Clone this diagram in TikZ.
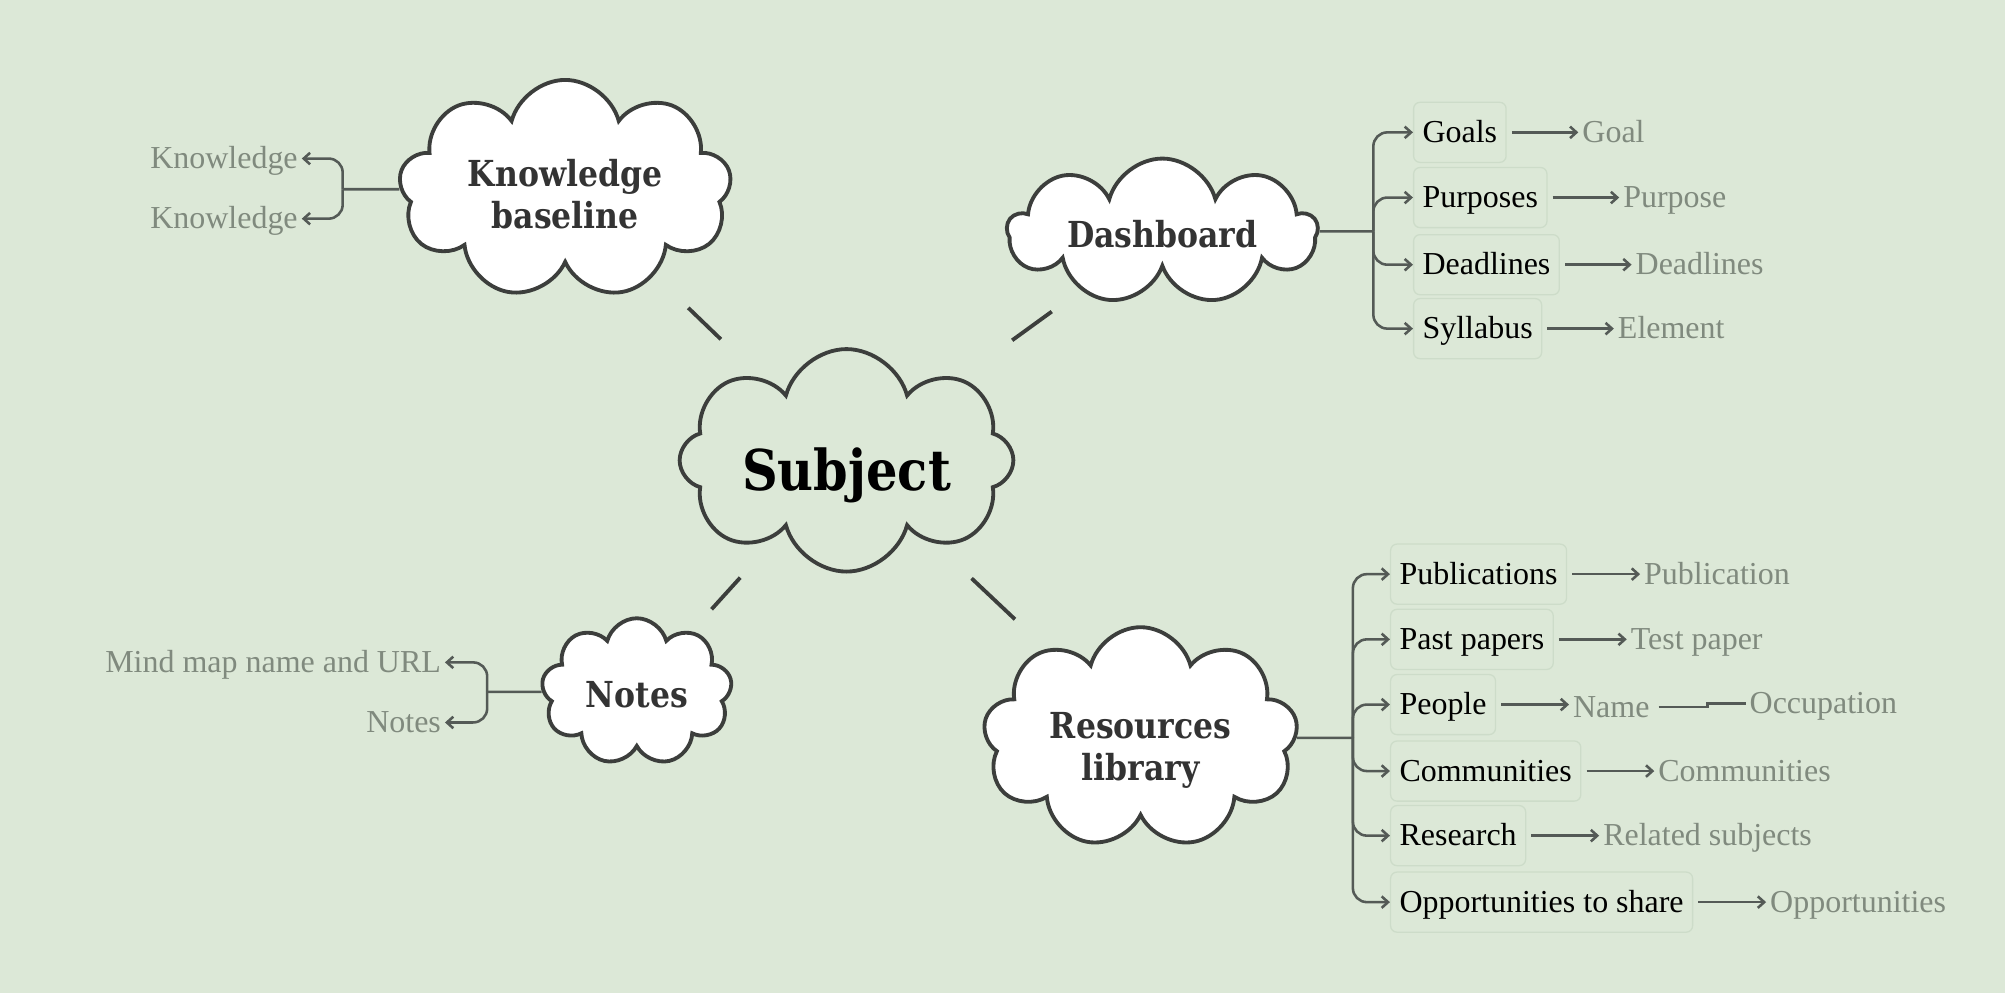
\documentclass[tikz,border=0pt]{standalone}
\usepackage{fontspec}
\setmainfont{Liberation Serif}
\newfontfamily\cloudfont{DejaVu Serif}[FakeStretch=0.88]
\usetikzlibrary{shapes.symbols,arrows.meta,positioning}
\definecolor{sage}{RGB}{220,232,215}
\definecolor{inkline}{RGB}{60,62,60}
\definecolor{branchline}{RGB}{84,90,86}
\definecolor{leafgray}{RGB}{128,138,126}
\definecolor{boxedge}{RGB}{205,220,201}
\begin{document}
\begin{tikzpicture}[x=1pt, y=-1pt,
	bubble/.style={cloud, cloud puffs=9, cloud ignores aspect, draw=inkline, line width=3pt, fill=white, align=center, text=black!80, font=\cloudfont\bfseries\fontsize{28}{33}\selectfont},
	topic/.style={draw=boxedge, line width=1pt, rounded corners=5pt, anchor=west, inner xsep=7pt, minimum height=47pt, text height=20pt, text depth=4pt, font=\fontsize{25}{29}\selectfont},
	leaf/.style={inner xsep=3pt, text=leafgray, text height=20pt, text depth=4pt, font=\fontsize{25}{29}\selectfont},
	branch/.style={draw=branchline, line width=2pt, rounded corners=11pt},
	pointer/.style={-{Straight Barb[length=5pt,width=9pt]}},
	spoke/.style={draw=inkline, line width=3pt}]
			\fill[sage] (0,0) rectangle (1568,776.6);
			\node[bubble, fill=none, cloud puffs=8, minimum width=261pt, minimum height=174pt, text=black, text height=57pt, text depth=10pt, font=\cloudfont\bfseries\fontsize{44}{50}\selectfont] (subject) at (662,360) {Subject};
			\node[bubble, minimum width=260pt, minimum height=171pt, text height=62pt, text depth=0pt] (baseline) at (442,148) {Knowledge\\baseline};
			\node[bubble, minimum width=242pt, minimum height=114pt, text height=25pt, text depth=0pt] (dashboard) at (909,181) {Dashboard};
			\node[bubble, minimum width=149pt, minimum height=115pt, text height=24pt, text depth=0pt] (notes) at (498,541) {Notes};
			\node[bubble, minimum width=246pt, minimum height=173pt, text height=73pt, text depth=6pt] (library) at (892,577) {Resources\\library};
			\draw[spoke, shorten <=136.5pt, shorten >=133.7pt] (subject.center) -- (baseline.center);
			\draw[spoke, shorten <=160pt, shorten >=106.8pt] (subject.center) -- (dashboard.center);
			\draw[spoke, shorten <=123.8pt, shorten >=87.1pt] (subject.center) -- (notes.center);
			\draw[spoke, shorten <=134.5pt, shorten >=135.1pt] (subject.center) -- (library.center);
			\coordinate (baselinej) at (268,148);
			\coordinate (dashboardj) at (1074,181);
			\coordinate (notesj) at (381,541);
			\coordinate (libraryj) at (1058,577);
			\node[leaf, anchor=east] (knowledgea) at (236,124) {Knowledge};
			\node[leaf, anchor=east] (knowledgeb) at (236,171) {Knowledge};
			\draw[branch] (baseline) -- (baselinej);
			\draw[branch, pointer] (baselinej) |- (knowledgea.east);
			\draw[branch, pointer] (baselinej) |- (knowledgeb.east);
			\node[leaf, anchor=east] (mapname) at (348,518) {Mind map name and URL};
			\node[leaf, anchor=east] (notetext) at (348,565) {Notes};
			\draw[branch] (notes) -- (notesj);
			\draw[branch, pointer] (notesj) |- (mapname.east);
			\draw[branch, pointer] (notesj) |- (notetext.east);
			\node[topic] (goals) at (1105,103.5) {Goals};
			\node[topic] (purposes) at (1105,154.5) {Purposes};
			\node[topic] (deadlines) at (1105,207) {Deadlines};
			\node[topic] (syllabus) at (1105,257) {Syllabus};
			\draw[branch] (dashboard) -- (dashboardj);
			\draw[branch, pointer] (dashboardj) |- (goals.west);
			\draw[branch, pointer] (dashboardj) |- (purposes.west);
			\draw[branch, pointer] (dashboardj) |- (deadlines.west);
			\draw[branch, pointer] (dashboardj) |- (syllabus.west);
			\node[leaf, right=56pt of goals] (goal) {Goal};
			\node[leaf, right=56pt of purposes] (purpose) {Purpose};
			\node[leaf, right=56pt of deadlines] (deadline) {Deadlines};
			\node[leaf, right=56pt of syllabus] (element) {Element};
			\draw[branch, pointer, shorten <=4pt] (goals) -- (goal);
			\draw[branch, pointer, shorten <=4pt] (purposes) -- (purpose);
			\draw[branch, pointer, shorten <=4pt] (deadlines) -- (deadline);
			\draw[branch, pointer, shorten <=4pt] (syllabus) -- (element);
			\node[topic] (publications) at (1087,449) {Publications};
			\node[topic] (pastpapers) at (1087,500) {Past papers};
			\node[topic] (people) at (1087,551) {People};
			\node[topic] (communities) at (1087,603) {Communities};
			\node[topic] (research) at (1087,653.5) {Research};
			\node[topic] (opportunities) at (1087,705.5) {Opportunities to share};
			\draw[branch] (library) -- (libraryj);
			\draw[branch, pointer] (libraryj) |- (publications.west);
			\draw[branch, pointer] (libraryj) |- (pastpapers.west);
			\draw[branch, pointer] (libraryj) |- (people.west);
			\draw[branch, pointer] (libraryj) |- (communities.west);
			\draw[branch, pointer] (libraryj) |- (research.west);
			\draw[branch, pointer] (libraryj) |- (opportunities.west);
			\node[leaf, right=57pt of publications] (publication) {Publication};
			\node[leaf, right=57pt of pastpapers] (testpaper) {Test paper};
			\node[leaf, right=57pt of people, yshift=-2pt] (name) {Name};
			\node[leaf, right=72pt of name, yshift=3pt] (occupation) {Occupation};
			\node[leaf, right=57pt of communities] (community) {Communities};
			\node[leaf, right=57pt of research] (related) {Related subjects};
			\node[leaf, right=57pt of opportunities] (opportunity) {Opportunities};
			\draw[branch, pointer, shorten <=4pt] (publications) -- (publication);
			\draw[branch, pointer, shorten <=4pt] (pastpapers) -- (testpaper);
			\draw[branch, pointer, shorten <=4pt] (people.east) -- (people.east -| name.west);
			\draw[branch, sharp corners, shorten <=4pt] (name.east) -- ++(42,0) |- (occupation.west);
			\draw[branch, pointer, shorten <=4pt] (communities) -- (community);
			\draw[branch, pointer, shorten <=4pt] (research) -- (related);
			\draw[branch, pointer, shorten <=4pt] (opportunities) -- (opportunity);
		\end{tikzpicture}
\end{document}
